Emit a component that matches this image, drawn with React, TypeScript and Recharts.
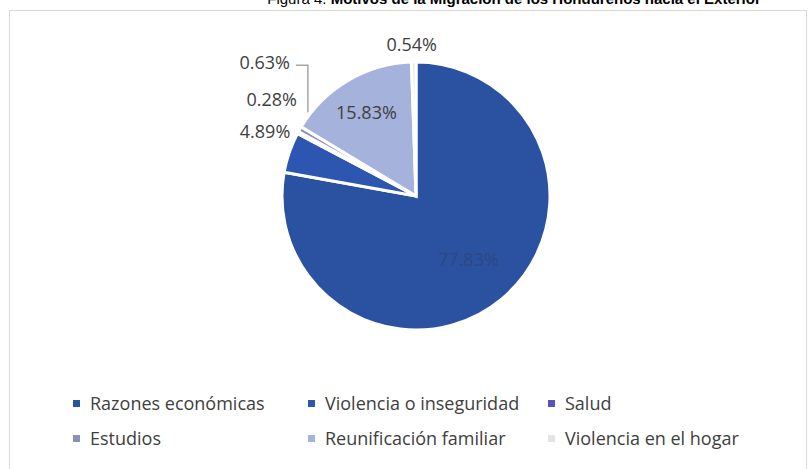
import React from "react";
import { PieChart, Pie, Cell, Legend } from "recharts";

const categories = [
  "Razones económicas",
  "Violencia o inseguridad",
  "Salud",
  "Estudios",
  "Reunificación familiar",
  "Violencia en el hogar",
];
const values = [77.83, 4.89, 0.28, 0.63, 15.83, 0.54];
const labels = ["77.83%", "4.89%", "0.28%", "0.63%", "15.83%", "0.54%"];
const colors = ["#2b52a1", "#2d56b0", "#5553c4", "#8f90b8", "#a5b2dc", "#e4e4e4"];

const data = categories.map((name, i) => ({ name, value: values[i], label: labels[i] }));

const FONT = "'Open Sans', sans-serif";
const RAD = Math.PI / 180;

// label placement rules per slice
const labelRules = [
  { inside: true, rf: 0.61, dx: 0, dy: 0, anchor: "middle", color: "#2c4784" },
  { inside: false, dx: 1, dy: -21, anchor: "end" },
  { inside: false, dx: -1, dy: -33, anchor: "end" },
  { inside: false, dx: -10, dy: -67, anchor: "end", leader: true },
  { inside: true, rf: 0.73, dx: 0, dy: 0, anchor: "middle", color: "#404040" },
  { inside: false, dx: -2, dy: -18, anchor: "middle" },
];

const renderLabel = (props: any) => {
  const { cx, cy, midAngle, outerRadius, index } = props;
  const rule: any = labelRules[index];
  const r = rule.inside ? outerRadius * rule.rf : outerRadius;
  const ex = cx + r * Math.cos(-midAngle * RAD);
  const ey = cy + r * Math.sin(-midAngle * RAD);
  const x = ex + rule.dx;
  const y = ey + rule.dy;
  return (
    <g key={`lbl-${index}`}>
      {rule.leader ? (
        <polyline
          points={`${ex - 4},${ey - 64} ${ex + 8},${ey - 64} ${ex + 8},${ey - 17}`}
          fill="none"
          stroke="#a6a6a6"
          strokeWidth={1.5}
        />
      ) : null}
      <text
        x={x}
        y={y}
        textAnchor={rule.anchor}
        dominantBaseline="central"
        fill={rule.color || "#404040"}
        fontFamily={FONT}
        fontSize={18}
      >
        {labels[index]}
      </text>
    </g>
  );
};

const legendCols = [73, 308, 548];
const legendRows = [403, 438];

const renderLegend = () => (
  <div style={{ position: "relative", width: 811, height: 469 }}>
    {data.map((d, i) => {
      const col = i % 3;
      const row = Math.floor(i / 3);
      return (
        <div
          key={d.name}
          style={{
            position: "absolute",
            left: legendCols[col],
            top: legendRows[row] - 12,
            height: 24,
            display: "flex",
            alignItems: "center",
            fontFamily: FONT,
            fontSize: 18,
            color: "#404040",
            whiteSpace: "nowrap",
          }}
        >
          <span
            style={{
              display: "inline-block",
              width: 7,
              height: 7,
              background: colors[i],
              marginRight: 10,
            }}
          />
          <span>{d.name}</span>
        </div>
      );
    })}
  </div>
);

export default function App() {
  return (
    <div style={{ position: "absolute", left: 0, top: 0, width: 811, height: 469, background: "#fff", overflow: "hidden" }}>
      <svg width={811} height={469} style={{ position: "absolute", left: 0, top: 0 }}>
        <rect x={9.5} y={10.5} width={797} height={470} fill="#fff" stroke="#d9d9d9" strokeWidth={1} />
        <text x={514} y={4} textAnchor="middle" fontFamily="'Liberation Sans', Arial, sans-serif" fontSize={15} fill="#000">
          <tspan>Figura 4. </tspan>
          <tspan fontWeight="bold">Motivos de la Migración de los Hondureños hacia el Exterior</tspan>
        </text>
      </svg>
      <div style={{ position: "absolute", left: 0, top: 0 }}>
        <PieChart width={811} height={469} margin={{ top: 0, right: 0, bottom: 0, left: 0 }}>
          <Pie
            data={data}
            dataKey="value"
            nameKey="name"
            cx={416}
            cy={196}
            outerRadius={134}
            startAngle={90}
            endAngle={-270}
            stroke="#ffffff"
            strokeWidth={3}
            label={renderLabel}
            labelLine={false}
            isAnimationActive={false}
          >
            {data.map((d, i) => (
              <Cell key={d.name} fill={colors[i]} />
            ))}
          </Pie>
          <Legend
            content={renderLegend}
            wrapperStyle={{ position: "absolute", left: 0, top: 0, width: 811, height: 469, pointerEvents: "none" }}
          />
        </PieChart>
      </div>
    </div>
  );
}
